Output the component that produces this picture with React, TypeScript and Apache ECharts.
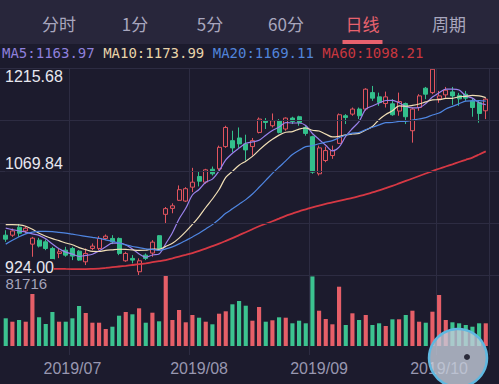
import React, { useEffect, useRef } from "react";
import * as echarts from "echarts";

// ---- data ----
// [open, close, low, high]
const candles: number[][] = [
  [980.1, 974.5, 970.7, 987.1],
  [980.1, 986.1, 977.7, 989.5],
  [991.3, 982.9, 977.7, 997.3],
  [986.1, 989.9, 982.5, 992.7],
  [967.5, 975.9, 949.7, 977.7],
  [973.1, 964.7, 962.8, 976.3],
  [970.7, 961.4, 959.0, 974.1],
  [961.4, 946.4, 945.0, 963.7],
  [954.4, 956.7, 947.8, 961.9],
  [959.0, 952.0, 949.7, 963.7],
  [961.4, 950.6, 945.0, 963.7],
  [957.6, 945.0, 944.0, 959.0],
  [942.6, 954.4, 938.0, 961.4],
  [961.4, 964.7, 959.0, 968.4],
  [961.4, 975.5, 959.0, 978.7],
  [975.5, 978.7, 973.1, 981.1],
  [975.5, 970.7, 967.5, 980.1],
  [975.5, 954.4, 952.0, 976.9],
  [944.0, 954.4, 942.6, 956.7],
  [947.4, 945.0, 940.4, 952.0],
  [928.6, 944.0, 924.0, 947.4],
  [952.0, 947.4, 945.0, 954.4],
  [954.9, 970.3, 949.7, 973.1],
  [979.4, 961.4, 959.0, 980.1],
  [1009.5, 1017.5, 996.5, 1019.8],
  [1017.9, 1021.5, 1011.0, 1025.0],
  [1029.2, 1044.2, 1028.2, 1050.2],
  [1028.2, 1045.6, 1026.8, 1047.8],
  [1047.8, 1054.8, 1040.8, 1075.0],
  [1062.8, 1056.2, 1048.8, 1069.8],
  [1054.8, 1072.2, 1052.6, 1073.6],
  [1073.0, 1066.6, 1064.2, 1076.8],
  [1073.6, 1103.9, 1071.2, 1106.3],
  [1104.9, 1131.9, 1103.1, 1134.3],
  [1113.3, 1103.1, 1096.9, 1127.3],
  [1117.1, 1108.7, 1103.1, 1131.9],
  [1108.7, 1100.3, 1085.3, 1121.7],
  [1104.9, 1113.3, 1092.3, 1117.1],
  [1124.9, 1143.7, 1123.5, 1146.0],
  [1141.4, 1139.0, 1129.7, 1145.1],
  [1134.3, 1141.4, 1131.9, 1151.6],
  [1141.4, 1124.9, 1123.5, 1143.7],
  [1129.7, 1145.1, 1127.3, 1146.0],
  [1145.1, 1140.4, 1136.7, 1147.0],
  [1147.0, 1139.0, 1134.3, 1148.4],
  [1131.9, 1123.5, 1120.3, 1134.3],
  [1118.9, 1068.9, 1066.6, 1120.3],
  [1066.6, 1103.1, 1064.2, 1106.3],
  [1085.3, 1099.3, 1082.9, 1104.9],
  [1092.3, 1099.3, 1087.7, 1106.3],
  [1109.5, 1149.8, 1108.7, 1151.6],
  [1148.4, 1146.0, 1136.7, 1150.7],
  [1150.7, 1157.8, 1148.4, 1160.0],
  [1157.8, 1148.4, 1143.7, 1160.0],
  [1157.8, 1185.8, 1155.4, 1187.2],
  [1181.0, 1173.2, 1169.4, 1190.4],
  [1175.0, 1167.0, 1162.4, 1181.0],
  [1165.6, 1175.0, 1160.0, 1182.4],
  [1165.2, 1149.8, 1148.4, 1171.8],
  [1155.0, 1168.4, 1148.4, 1181.0],
  [1165.6, 1147.0, 1136.7, 1167.0],
  [1127.3, 1157.8, 1110.5, 1160.0],
  [1160.0, 1176.4, 1155.4, 1178.8],
  [1187.2, 1178.8, 1171.8, 1189.0],
  [1181.0, 1213.9, 1178.8, 1215.68],
  [1172.2, 1176.4, 1166.6, 1183.4],
  [1177.8, 1184.4, 1173.6, 1189.0],
  [1182.0, 1176.4, 1163.8, 1189.0],
  [1177.1, 1172.2, 1162.4, 1180.6],
  [1178.8, 1173.2, 1169.4, 1183.4],
  [1169.4, 1160.0, 1147.0, 1173.2],
  [1167.0, 1151.6, 1138.6, 1170.4],
  [1155.4, 1171.8, 1143.7, 1173.2],
];

const ma5: number[] = [
  990.0, 988.0, 986.0, 984.5, 981.9, 979.9, 975.0, 967.7, 961.0, 956.2,
  953.4, 950.1, 951.7, 953.3, 958.0, 963.7, 968.8, 968.8, 966.7, 960.6,
  953.7, 949.0, 952.2, 953.6, 968.1, 983.6, 1003.0, 1018.0, 1036.7, 1044.5,
  1054.6, 1059.1, 1070.7, 1086.2, 1095.5, 1102.8, 1109.6, 1111.5, 1113.8, 1121.0,
  1127.5, 1132.5, 1138.8, 1138.2, 1138.2, 1134.6, 1123.4, 1115.0, 1106.8, 1098.8,
  1104.1, 1119.5, 1130.4, 1140.3, 1157.6, 1162.2, 1166.4, 1169.9, 1170.2, 1166.7,
  1161.4, 1159.6, 1159.9, 1165.7, 1174.8, 1180.7, 1186.0, 1186.0, 1184.7, 1176.5,
  1173.2, 1166.7, 1163.97,
];
const ma10: number[] = [
  994.9, 994.9, 994.6, 992.7, 988.5, 982.9, 978.7, 975.2, 972.4, 969.1,
  966.7, 962.6, 959.7, 957.2, 957.1, 958.6, 959.5, 960.3, 960.0, 959.3,
  958.7, 958.9, 960.5, 960.2, 964.4, 968.7, 976.0, 985.1, 995.2, 1006.3,
  1019.1, 1031.1, 1044.4, 1061.5, 1070.0, 1078.7, 1084.4, 1091.1, 1100.0, 1108.3,
  1115.2, 1121.1, 1125.2, 1126.0, 1129.6, 1131.1, 1128.0, 1126.9, 1122.5, 1118.5,
  1119.4, 1121.5, 1122.7, 1123.6, 1128.2, 1133.2, 1143.0, 1150.2, 1155.3, 1162.2,
  1161.8, 1163.0, 1164.9, 1168.0, 1170.8, 1171.1, 1172.8, 1173.0, 1175.2, 1175.7,
  1177.0, 1176.4, 1173.99,
];
const ma20: number[] = [
  967.5, 973.0, 978.0, 982.0, 984.5, 985.5, 985.5, 985.0, 984.0, 983.0,
  981.5, 980.0, 978.5, 977.0, 975.5, 973.5, 971.5, 969.0, 966.5, 964.2,
  962.7, 960.8, 960.1, 958.7, 960.8, 963.7, 967.8, 972.7, 977.6, 982.8,
  988.9, 995.0, 1002.5, 1010.9, 1017.2, 1023.7, 1030.2, 1038.1, 1047.6, 1057.3,
  1067.2, 1076.1, 1084.8, 1093.8, 1099.8, 1104.9, 1106.2, 1109.0, 1111.3, 1113.4,
  1117.3, 1121.3, 1124.0, 1124.8, 1128.9, 1132.2, 1135.5, 1138.6, 1138.9, 1140.4,
  1140.6, 1142.3, 1143.8, 1145.8, 1149.5, 1152.2, 1157.9, 1161.6, 1165.3, 1169.0,
  1169.4, 1169.7, 1169.11,
];
const ma60: number[] = [
  934.3, 934.1, 933.9, 933.6, 933.4, 933.2, 933.0, 932.8, 932.7, 932.5,
  932.4, 932.4, 932.4, 932.7, 933.1, 934.0, 935.0, 936.0, 937.0, 938.1,
  939.2, 940.5, 942.0, 943.5, 945.0, 947.5, 950.0, 952.4, 954.9, 958.0,
  961.2, 964.7, 968.2, 972.0, 975.9, 980.1, 984.3, 988.5, 992.7, 996.2,
  999.7, 1003.5, 1007.4, 1010.5, 1013.7, 1016.5, 1019.3, 1021.8, 1024.3, 1026.4,
  1028.5, 1030.6, 1032.7, 1035.1, 1037.6, 1040.4, 1043.2, 1046.3, 1049.5, 1053.0,
  1056.5, 1060.0, 1063.5, 1067.0, 1070.5, 1073.7, 1076.9, 1080.0, 1083.2, 1086.3,
  1089.5, 1093.8, 1098.21,
];

const volumes: number[] = [
  32337, 28368, 30352, 28368, 60705, 33504, 25683, 39692, 28368, 28368,
  32337, 46696, 38524, 27200, 27200, 19846, 22531, 35372, 39692, 37007,
  44011, 27200, 38874, 28835, 81716, 30352, 42026, 27667, 36189, 33037,
  28368, 25333, 37707, 40509, 48681, 52533, 47046, 29535, 45529, 28368,
  30002, 33504, 33037, 26500, 29535, 26500, 81200, 41209, 31520, 25333,
  69227, 24515, 38174, 30352, 36189, 24515, 26500, 23348, 31169, 31169,
  36189, 41209, 28368, 27200, 40042, 59537, 30352, 27667, 26500, 24515,
  22531, 26500, 26500,
];

const categories: string[] = candles.map((_, i) => `D${i + 1}`);
const priceMin = 924.0;
const priceMax = 1215.68;
const priceTicks = ["924.00", "1069.84", "1215.68"];
const volMax = 81716;
const monthLabels = ["2019/07", "2019/08", "2019/09", "2019/10"];
const monthLabelAt = [10, 29, 47, 65];
const monthLineAt = [10, 28, 46, 65];
const tabs = ["分时", "1分", "5分", "60分", "日线", "周期"];
const tabCenters = [59, 135, 210, 286, 362.5, 449];
const activeTab = 4;
const maNames = ["MA5", "MA10", "MA20", "MA60"];
const maLast = ["1163.97", "1173.99", "1169.11", "1098.21"];

// ---- styles ----
const BG = "#1c1b2d";
const BAR_BG = "#28263b";
const RED = "#e2545e";
const GREEN = "#33c08c";
const VOL_RED = "#e65f68";
const VOL_GREEN = "#3cc390";
const GRID_LINE = "#2d2c42";
const MA_COLORS = ["#9a82ec", "#f1dfb6", "#4f86e2", "#d63844"];
const MA_TEXT = ["#8f80dc", "#e9d4a9", "#5184da", "#c9373f"];
const L = 2.4;
const R = 9.9;

export default function App() {
  const ref = useRef<HTMLDivElement>(null);

  useEffect(() => {
    if (!ref.current) return;
    const chart = echarts.init(ref.current, undefined, { renderer: "svg" });

    const rich: Record<string, any> = {};
    maNames.forEach((n, i) => {
      rich["m" + i] = {
        fill: MA_TEXT[i],
        color: MA_TEXT[i],
        fontSize: 14,
        fontFamily: "DejaVu Sans Mono",
      };
    });
    const maText = maNames.map((n, i) => `{m${i}|${n}:${maLast[i]}}`).join(" ");

    const graphic: any[] = [
      {
        type: "rect",
        shape: { x: 0, y: 0, width: 499, height: 44 },
        style: { fill: BAR_BG },
        silent: true,
        z: 0,
      },
      ...tabs.map((t, i) => ({
        type: "text",
        x: tabCenters[i],
        y: 23.5,
        z: 1,
        style: {
          text: t,
          fill: i === activeTab ? "#e8626e" : "#a8a6be",
          fontSize: 17,
          fontFamily: "Noto Sans CJK SC",
          align: "center",
          verticalAlign: "middle",
          textAlign: "center",
          textVerticalAlign: "middle",
        },
      })),
      {
        type: "rect",
        shape: { x: tabCenters[activeTab] - 20, y: 40, width: 40, height: 4 },
        style: { fill: "#e8626e" },
        z: 1,
      },
      {
        type: "text",
        x: 2,
        y: 53,
        z: 1,
        style: {
          text: maText,
          rich,
          fontSize: 14,
          fontFamily: "DejaVu Sans Mono",
          verticalAlign: "middle",
          textVerticalAlign: "middle",
        },
      },
      {
        type: "circle",
        shape: { cx: 458, cy: 358, r: 29 },
        style: { fill: "rgba(196,204,218,0.8)", stroke: "#5fb8e0", lineWidth: 2.5 },
        z: 10,
      },
      {
        type: "circle",
        shape: { cx: 467, cy: 357, r: 3 },
        style: { fill: "#2a2a3a" },
        z: 11,
      },
    ];

    const hiddenCat = (gridIndex: number) => ({
      type: "category",
      gridIndex,
      data: categories,
      boundaryGap: true,
      axisLine: { show: false },
      axisTick: { show: false },
      axisLabel: { show: false },
      splitLine: { show: false },
    });

    const option: any = {
      animation: false,
      backgroundColor: BG,
      graphic,
      grid: [
        { left: L, right: R, top: 68, height: 207, containLabel: false, outerBoundsMode: "none" },
        { left: L, right: R, top: 276, height: 70, containLabel: false, outerBoundsMode: "none" },
        { left: L, right: R, top: 68, height: 287, containLabel: false, outerBoundsMode: "none" },
        { left: 0, right: 0, top: 68, height: 207, containLabel: false, outerBoundsMode: "none" },
      ],
      xAxis: [
        hiddenCat(0),
        hiddenCat(1),
        {
          type: "category",
          gridIndex: 2,
          data: categories,
          boundaryGap: true,
          axisLine: { show: false },
          axisTick: { show: false },
          axisLabel: {
            show: true,
            interval: (idx: number) => monthLabelAt.indexOf(idx) >= 0,
            formatter: (_v: string, idx: number) => {
              const k = monthLabelAt.indexOf(idx);
              return k >= 0 ? monthLabels[k] : "";
            },
            color: "#9897b0",
            fontSize: 16,
            fontFamily: "Liberation Sans",
            margin: 5,
          },
          splitLine: {
            show: true,
            interval: (idx: number) => monthLineAt.indexOf(idx) >= 0,
            lineStyle: { color: GRID_LINE, width: 1 },
          },
        },
        { type: "value", gridIndex: 3, min: 0, max: 1, show: false },
      ],
      yAxis: [
        { type: "value", gridIndex: 0, min: priceMin, max: priceMax, show: false },
        {
          type: "value",
          gridIndex: 1,
          min: 0,
          max: volMax,
          interval: volMax,
          axisLine: { show: false },
          axisTick: { show: false },
          splitLine: { show: false },
          axisLabel: {
            inside: true,
            margin: 3,
            verticalAlign: "top",
            showMaxLabel: true,
            formatter: (v: number) => (v === volMax ? String(volMax) : ""),
            color: "#a4a3ba",
            fontSize: 15,
            fontFamily: "Liberation Sans",
          },
        },
        { type: "value", gridIndex: 2, min: 0, max: 1, show: false },
        {
          type: "value",
          gridIndex: 3,
          position: "left",
          min: 0,
          max: 4,
          interval: 1,
          z: 5,
          axisLine: { show: false },
          axisTick: { show: false },
          splitLine: { show: true, lineStyle: { color: GRID_LINE, width: 1 } },
          axisLabel: {
            inside: true,
            margin: 5,
            verticalAlign: "bottom",
            showMinLabel: true,
            formatter: (v: number) => (v === 0 ? priceTicks[0] : v === 2 ? priceTicks[1] : ""),
            color: "#e8e8f0",
            fontSize: 16,
            fontFamily: "Liberation Sans",
            backgroundColor: BG,
          },
        },
        {
          type: "value",
          gridIndex: 3,
          position: "left",
          min: 0,
          max: 4,
          interval: 1,
          axisLine: { show: false },
          axisTick: { show: false },
          splitLine: { show: false },
          axisLabel: {
            inside: true,
            margin: 5,
            verticalAlign: "top",
            showMaxLabel: true,
            formatter: (v: number) => (v === 4 ? priceTicks[2] : ""),
            color: "#e8e8f0",
            fontSize: 16,
            fontFamily: "Liberation Sans",
          },
        },
      ],
      series: [
        {
          type: "candlestick",
          xAxisIndex: 0,
          yAxisIndex: 0,
          data: candles,
          barWidth: "66%",
          itemStyle: {
            color: "transparent",
            color0: GREEN,
            borderColor: RED,
            borderColor0: GREEN,
            borderWidth: 1,
          },
        },
        ...[ma5, ma10, ma20, ma60].map((d, i) => ({
          type: "line",
          name: maNames[i],
          xAxisIndex: 0,
          yAxisIndex: 0,
          data: d,
          symbol: "none",
          showSymbol: false,
          smooth: 0.3,
          lineStyle: { color: MA_COLORS[i], width: i === 3 ? 1.8 : 1.2 },
          z: 3,
        })),
        {
          type: "bar",
          xAxisIndex: 1,
          yAxisIndex: 1,
          data: volumes,
          barWidth: "62%",
          itemStyle: {
            color: (p: any) =>
              candles[p.dataIndex][1] >= candles[p.dataIndex][0] ? VOL_RED : VOL_GREEN,
          },
        },
      ],
    };

    chart.setOption(option);
    return () => chart.dispose();
  }, []);

  return (
    <div
      ref={ref}
      style={{ position: "absolute", left: 0, top: 0, width: 499, height: 384 }}
    />
  );
}
